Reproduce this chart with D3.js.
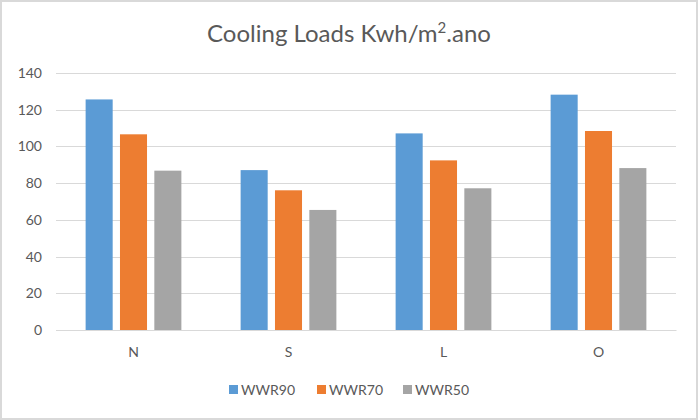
<!DOCTYPE html>
<html><head><meta charset="utf-8">
<script src="https://cdn.jsdelivr.net/npm/d3@7"></script>
<style>body{margin:0;background:#fff}svg{display:block}text{font-family:Lato,"Open Sans",sans-serif}</style>
</head><body><svg id="c" width="698" height="420"></svg>
<script>
const categories = ["N","S","L","O"];
const seriesNames = ["WWR90","WWR70","WWR50"];
const colors = ["#5b9bd5","#ed7d31","#a5a5a5"];
const WWR90 = [125.6, 87.1, 107.1, 128.2];
const WWR70 = [106.6, 76.1, 92.4, 108.4];
const WWR50 = [86.8, 65.4, 77.2, 88.2];
const yTicks = [0,20,40,60,80,100,120,140];
const seriesValues = [WWR90, WWR70, WWR50];

const svg = d3.select("#c");
svg.append("rect").attr("x",1).attr("y",1).attr("width",696).attr("height",418)
  .attr("fill","#fff").attr("stroke","#d9d9d9").attr("stroke-width",2);

const y = d3.scaleLinear().domain([0,140]).range([330,73]);
const x0 = d3.scaleBand().domain(categories).range([56,676]).paddingInner(0.382).paddingOuter(0.191);
const bw = 27.05, gap = 7.3;
const groupW = 3*bw + 2*gap;

svg.append("g").selectAll("line").data(yTicks).join("line")
  .attr("x1",56).attr("x2",676).attr("y1",d=>Math.round(y(d))+0.5).attr("y2",d=>Math.round(y(d))+0.5)
  .attr("stroke","#d9d9d9").attr("stroke-width",1);

const yAxis = d3.axisLeft(y).tickValues(yTicks).tickSize(0).tickPadding(0);
const ya = svg.append("g").attr("transform","translate(42,0)").call(yAxis);
ya.select(".domain").remove();
ya.selectAll("text").attr("fill","#595959").style("font-size","14px").style("font-family","Lato,'Open Sans',sans-serif");

const centers = c => x0(c) + x0.bandwidth()/2;
seriesValues.forEach((vals,si)=>{
  svg.append("g").selectAll("rect").data(vals).join("rect")
    .attr("x",(d,i)=>centers(categories[i]) - groupW/2 + si*(bw+gap))
    .attr("width",bw)
    .attr("y",d=>y(d)).attr("height",d=>y(0)-y(d))
    .attr("fill",colors[si]);
});

const xAxis = d3.axisBottom(x0).tickSize(0).tickPadding(0);
const xa = svg.append("g").attr("transform","translate(0,330)").call(xAxis);
xa.select(".domain").attr("stroke","#d9d9d9");
xa.selectAll("text").attr("dy","1.95em").attr("fill","#595959").style("font-size","14px").style("font-family","Lato,'Open Sans',sans-serif");

const title = svg.append("text").attr("x",349).attr("y",42).attr("text-anchor","middle")
  .attr("fill","#595959").style("font-size","24px");
title.append("tspan").text("Cooling Loads Kwh/m");
title.append("tspan").text("2").attr("dy",-9).style("font-size","15px");
title.append("tspan").text(".ano").attr("dy",9);

const legendX = [229, 317, 403];
const lg = svg.append("g");
seriesNames.forEach((n,i)=>{
  lg.append("rect").attr("x",legendX[i]).attr("y",385).attr("width",9).attr("height",9).attr("fill",colors[i]);
  lg.append("text").attr("x",legendX[i]+12).attr("y",394.5).attr("fill","#595959").style("font-size","14px").text(n);
});
</script></body></html>
